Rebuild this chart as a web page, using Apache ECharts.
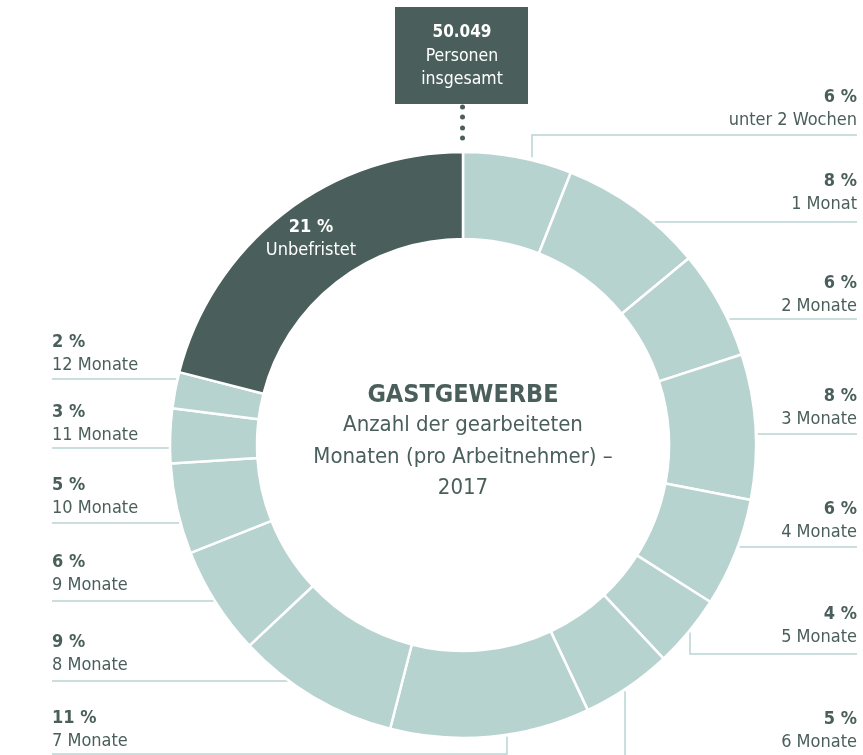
<!DOCTYPE html>
<html>
<head>
<meta charset="utf-8">
<script src="https://cdn.jsdelivr.net/npm/echarts@6/dist/echarts.min.js"></script>
<style>
html,body{margin:0;padding:0;background:#fff;}
#chart{width:863px;height:755px;}
</style>
</head>
<body>
<div id="chart"></div>
<script>
// Daten
var categories = ['unter 2 Wochen', '1 Monat', '2 Monate', '3 Monate', '4 Monate', '5 Monate', '6 Monate',
    '7 Monate', '8 Monate', '9 Monate', '10 Monate', '11 Monate', '12 Monate', 'Unbefristet'];
var shares = [6, 8, 6, 8, 6, 4, 5, 11, 9, 6, 5, 3, 2, 21];
var total = '50.049';

var FONT = "'DejaVu Sans Condensed', 'Liberation Sans', sans-serif";
var DARK = '#4a5f5b';
var LIGHT = '#b7d3d0';
var LINE = '#b8d4d2';
var cx = 463, cy = 445, R = 293;

// Lage der Beschriftungen (Seite, Oberkante Text, Linie)
var labelPos = [
    {side: 'r', top: 86, lineY: 135, lineX: 532},
    {side: 'r', top: 170, lineY: 222},
    {side: 'r', top: 272, lineY: 319},
    {side: 'r', top: 385, lineY: 434},
    {side: 'r', top: 498, lineY: 547},
    {side: 'r', top: 603, lineY: 654, lineX: 690},
    {side: 'r', top: 708, lineY: 775, lineX: 625},
    {side: 'l', top: 707, lineY: 754, lineX: 507},
    {side: 'l', top: 631, lineY: 681},
    {side: 'l', top: 551, lineY: 601},
    {side: 'l', top: 474, lineY: 523},
    {side: 'l', top: 401, lineY: 448},
    {side: 'l', top: 331, lineY: 379},
    {side: 'in', top: 216, x: 311}
];

var pieData = [];
for (var i = 0; i < categories.length; i++) {
    var item = {name: categories[i], value: shares[i], itemStyle: {color: LIGHT}};
    if (i == categories.length - 1) {
        item.itemStyle = {color: DARK};
        item.label = {rich: {p: {color: '#fff'}, n: {color: '#fff'}}};
        item.labelLine = {show: false};
    }
    pieData.push(item);
}

var dom = document.getElementById('chart');
var myChart = echarts.init(dom);
var option = {
    backgroundColor: '#fff',
    animation: false,
    textStyle: {fontFamily: FONT},
    series: [{
        type: 'pie',
        center: [cx, cy],
        radius: [206, R],
        startAngle: 90,
        clockwise: true,
        data: pieData,
        itemStyle: {borderColor: '#fff', borderWidth: 2.5},
        emphasis: {disabled: true},
        label: {
            show: true,
            position: 'outer',
            width: 300,
            overflow: 'none',
            formatter: function (p) {
                return '{p|' + p.value + ' %}\n{n|' + p.name + '}';
            },
            rich: {
                p: {fontFamily: FONT, fontSize: 18, fontWeight: 'bold', lineHeight: 23, color: DARK},
                n: {fontFamily: FONT, fontSize: 18, lineHeight: 23, color: DARK}
            }
        },
        labelLine: {show: true, lineStyle: {color: LINE, width: 1.5}},
        labelLayout: function (params) {
            var lp = labelPos[params.dataIndex];
            if (lp.side == 'in') {
                return {x: lp.x, y: lp.top, align: 'center', verticalAlign: 'top'};
            }
            var pts;
            if (lp.lineX != null) {
                var dy = Math.sqrt(R * R - (lp.lineX - cx) * (lp.lineX - cx));
                var y0 = lp.lineY < cy ? cy - dy - 3 : cy + dy + 2;
                pts = [[lp.lineX, y0], [lp.lineX, lp.lineY], [lp.side == 'r' ? 857 : 52, lp.lineY]];
            } else {
                var dx = Math.sqrt(R * R - (lp.lineY - cy) * (lp.lineY - cy));
                var x0 = lp.side == 'r' ? cx + dx + 2 : cx - dx - 1;
                var x1 = lp.side == 'r' ? 857 : 52;
                pts = [[x0, lp.lineY], [x0, lp.lineY], [x1, lp.lineY]];
            }
            return {
                x: lp.side == 'r' ? 857 : 52,
                y: lp.top,
                align: lp.side == 'r' ? 'right' : 'left',
                verticalAlign: 'top',
                labelLinePoints: pts
            };
        }
    }],
    graphic: [
        {type: 'rect', shape: {x: 395, y: 7, width: 133, height: 97}, style: {fill: DARK}},
        {type: 'text', x: 462, y: 21, style: {
            text: '{a|' + total + '}\n{b|Personen}\n{b|insgesamt}',
            align: 'center', verticalAlign: 'top',
            rich: {
                a: {fontFamily: FONT, fontSize: 17, fontWeight: 'bold', lineHeight: 24, fill: '#fff'},
                b: {fontFamily: FONT, fontSize: 17.5, lineHeight: 23, fill: '#fff'}
            }
        }},
        {type: 'circle', shape: {cx: 462.5, cy: 107, r: 2.5}, style: {fill: DARK}},
        {type: 'circle', shape: {cx: 462.5, cy: 117, r: 2.5}, style: {fill: DARK}},
        {type: 'circle', shape: {cx: 462.5, cy: 128, r: 2.5}, style: {fill: DARK}},
        {type: 'circle', shape: {cx: 462.5, cy: 138, r: 2.5}, style: {fill: DARK}},
        {type: 'text', x: 463, y: 395, style: {
            text: 'GASTGEWERBE', align: 'center', verticalAlign: 'middle',
            font: 'bold 25px ' + FONT, fill: DARK
        }},
        {type: 'text', x: 463, y: 410, style: {
            text: 'Anzahl der gearbeiteten\nMonaten (pro Arbeitnehmer) –\n2017',
            align: 'center', verticalAlign: 'top', lineHeight: 31.5,
            font: '22px ' + FONT, fill: DARK
        }}
    ]
};
if (option && typeof option === "object") {
    myChart.setOption(option, true);
}
</script>
</body>
</html>
